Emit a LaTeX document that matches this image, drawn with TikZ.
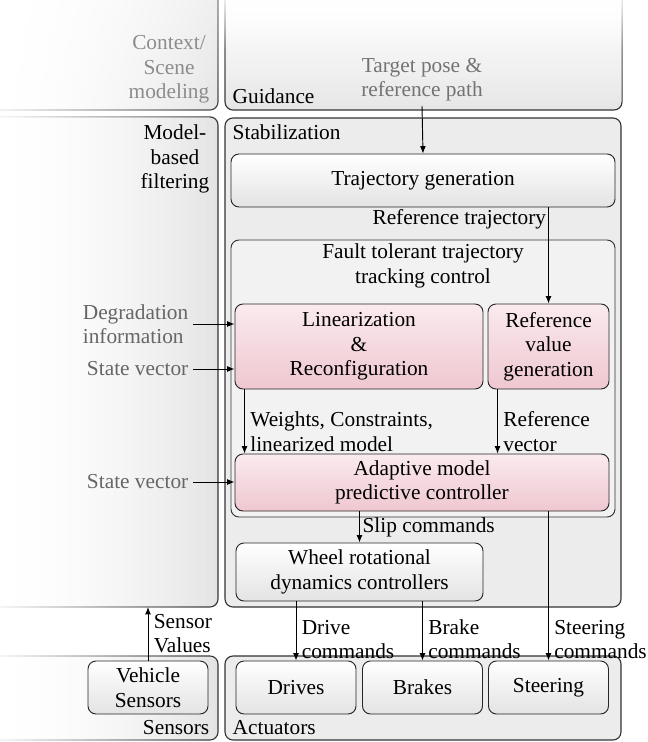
\documentclass[tikz,border=0pt]{standalone}
\usepackage{fontspec}
\setmainfont{Liberation Serif}
\usetikzlibrary{arrows.meta,fadings,shadings}

\definecolor{pinktop}{RGB}{250,234,238}
\definecolor{pinkbot}{RGB}{239,199,208}
\tikzfading[name=fadeleft, left color=transparent!100, right color=transparent!0]
\tikzfading[name=fadetop, top color=transparent!100, bottom color=transparent!0, middle color=transparent!15]
\tikzfading[name=fadecorner, upper left=transparent!100, upper right=transparent!40, lower left=transparent!90, lower right=transparent!0]

\begin{document}
\begin{tikzpicture}[x=0.75pt, y=-0.75pt, every node/.style={font=\fontsize{16}{18.4}\selectfont}, >={Latex[length=5.5pt,width=4.4pt]},
	panel/.style={draw=black!80, line width=0.85pt, rounded corners=6pt},
	block/.style={draw=black!85, line width=0.7pt, rounded corners=6pt, top color=white, bottom color=gray!22, align=center},
	pinkblock/.style={block, top color=pinktop, bottom color=pinkbot},
	sig/.style={->, line width=0.7pt}]
	\useasboundingbox (0,0) rectangle (648,742);
	% upper row
	\path[panel, left color=white, right color=gray!22, path fading=fadecorner] (-15,-10) rectangle (218,110);
	\node[anchor=south east, align=center, text=black!45] (ctxlbl) at (214,108) {Context/\\Scene\\modeling};
	\path[panel, top color=white, bottom color=gray!20, path fading=fadetop] (225,-10) rectangle (622,110);
	\node[anchor=south west] (guidlbl) at (228,108) {Guidance};
	\node[anchor=south, align=center, text=black!55] (tgt) at (422,106) {Target pose \&\\reference path};
	% middle row
	\path[panel, left color=white, right color=gray!22, path fading=fadeleft] (-15,117) rectangle (218,607);
	\node[anchor=north east, align=center] (mbflbl) at (214,120) {Model-\\based\\filtering};
	\path[panel, fill=gray!15] (225,118) rectangle (621,607);
	\node[anchor=north west] (stablbl) at (228,120) {Stabilization};
	\node[block, minimum width=288pt, minimum height=39.75pt] (traj) at (423,180.5) {Trajectory generation};
	\path[panel, fill=gray!10, line width=0.7pt] (231,240) rectangle (615,517);
	\node[align=center] (ftclbl) at (423,266) {Fault tolerant trajectory\\tracking control};
	\node[pinkblock, minimum width=186pt, minimum height=63.75pt] (lin) at (359,346.5) {Linearization\\\&\\Reconfiguration};
	\node[pinkblock, minimum width=90.75pt, minimum height=63.75pt] (refgen) at (548.5,346.5) {Reference\\value\\generation};
	\node[pinkblock, minimum width=280.5pt, minimum height=42.75pt] (mpc) at (422,482.5) {Adaptive model\\predictive controller};
	\node[block, minimum width=185.25pt, minimum height=43.5pt] (wheel) at (359.5,572) {Wheel rotational\\dynamics controllers};
	% lower row
	\path[panel, left color=white, right color=gray!22, path fading=fadeleft] (-15,656) rectangle (218,740);
	\node[anchor=south east] (senslbl) at (214,739) {Sensors};
	\path[panel, fill=gray!15] (225,656) rectangle (621,740);
	\node[anchor=south west] (actlbl) at (228,739) {Actuators};
	\node[block, minimum width=90pt, minimum height=39.75pt] (vs) at (148,687.5) {Vehicle\\Sensors};
	\node[block, minimum width=90pt, minimum height=39.75pt] (drives) at (296,687.5) {Drives};
	\node[block, minimum width=90pt, minimum height=39.75pt] (brakes) at (422.5,687.5) {Brakes};
	\node[block, minimum width=90pt, minimum height=39.75pt] (steer) at (548.5,687.5) {Steering};
	% inputs from the left
	\node[anchor=east, align=left, text=black!60] (degr) at (193,324) {Degradation\\information};
	\node[anchor=east, text=black!60] (sv1) at (193,369) {State vector};
	\node[anchor=east, text=black!60] (sv2) at (193,482) {State vector};
	\coordinate (wtop) at ([xshift=7.5pt]lin.south west);
	\coordinate (rtop) at ([xshift=7.5pt]refgen.south west);
	\coordinate (mbfbot) at (148,607);
	% signals
	\draw[sig] (tgt.south) -- (traj.north);
	\draw[sig] (traj.south -| refgen.north) -- (refgen.north) node[pos=0, anchor=north east, inner sep=1.5pt] {Reference trajectory};
	\draw[sig] (degr.east) -- (degr.east -| lin.west);
	\draw[sig] (sv1.east) -- (sv1.east -| lin.west);
	\draw[sig] (sv2.east) -- (sv2.east -| mpc.west);
	\draw[sig] (wtop) -- (wtop |- mpc.north) node[anchor=south west, align=left, inner sep=1pt, xshift=3pt] {Weights, Constraints,\\linearized model};
	\draw[sig] (rtop) -- (rtop |- mpc.north) node[anchor=south west, align=left, inner sep=1pt, xshift=3pt] {Reference\\vector};
	\draw[sig] (mpc.south -| wheel.north) -- node[anchor=west, inner sep=2pt] {Slip commands} (wheel.north);
	\draw[sig] (wheel.south -| drives.north) -- (drives.north) node[anchor=south west, align=left, inner sep=1pt, xshift=3pt] {Drive\\commands};
	\draw[sig] (wheel.south -| brakes.north) -- (brakes.north) node[anchor=south west, align=left, inner sep=1pt, xshift=3pt] {Brake\\commands};
	\draw[sig] (mpc.south -| steer.north) -- (steer.north) node[anchor=south west, align=left, inner sep=1pt, xshift=3pt] {Steering\\commands};
	\draw[sig] (vs.north) -- node[anchor=west, align=left, inner sep=2pt, xshift=2pt] {Sensor\\Values} (mbfbot);
\end{tikzpicture}
\end{document}
